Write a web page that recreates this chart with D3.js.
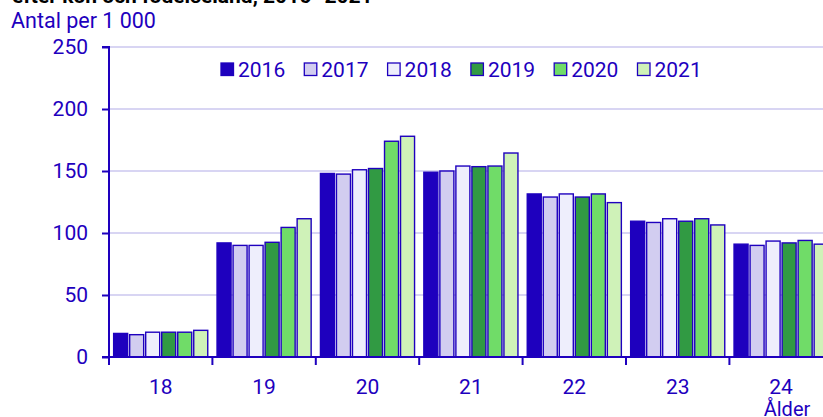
<!DOCTYPE html>
<html>
<head>
<meta charset="utf-8">
<script src="https://cdn.jsdelivr.net/npm/d3@7"></script>
<style>
  body { margin: 0; background: #fff; }
  text { font-family: Roboto, "Noto Sans", sans-serif; }
</style>
</head>
<body>
<div class="chart"></div>
<script>
var svgWidth = 823;
var svgHeight = 417;

// data
var ages = ["18", "19", "20", "21", "22", "23", "24"];
var years = ["2016", "2017", "2018", "2019", "2020", "2021"];
var v2016 = [19, 92, 148, 149, 131.5, 109.5, 91];
var v2017 = [18, 90, 147.5, 150, 129, 108.5, 90];
var v2018 = [20, 90, 151, 154, 131.5, 111.5, 93.5];
var v2019 = [20, 92.5, 152, 153.5, 129, 109.5, 92];
var v2020 = [20, 104.5, 174, 154, 131.5, 111.5, 94];
var v2021 = [21.5, 111.5, 178, 164.5, 124.5, 106.5, 91];
var yTicks = [0, 50, 100, 150, 200, 250];

var series = [v2016, v2017, v2018, v2019, v2020, v2021];
var colors = ["#1e00be", "#d2cdf0", "#eeeefc", "#319a43", "#70dc68", "#cff2b8"];
var blue = "#1e00be";

var data = [];
ages.forEach(function(a, i) {
  years.forEach(function(y, j) {
    data.push({ age: a, year: y, value: series[j][i] });
  });
});

var x0 = 109, y0 = 357;

var svg = d3.select(".chart")
  .append("svg")
  .attr("width", svgWidth)
  .attr("height", svgHeight);

var xScale = d3.scaleBand()
  .domain(ages)
  .range([x0, x0 + 7 * 103.4]);

var xInner = d3.scaleBand()
  .domain(years)
  .range([0, xScale.bandwidth()])
  .paddingInner(0.125)
  .paddingOuter(0.29);

var yScale = d3.scaleLinear()
  .domain([0, 250])
  .range([y0, 47]);

// title (clipped at top)
svg.append("text")
  .attr("x", 12)
  .attr("y", 2.5)
  .attr("font-size", "21px")
  .attr("font-weight", "bold")
  .attr("fill", "#000")
  .text("efter kön och födelseland, 2016–2021");

svg.append("text")
  .attr("x", 11)
  .attr("y", 28)
  .attr("font-size", "21.5px")
  .attr("fill", blue)
  .text("Antal per 1 000");

// gridlines
svg.append("g")
  .selectAll("line")
  .data(yTicks.filter(function(d) { return d > 0; }))
  .enter()
  .append("line")
  .attr("x1", x0)
  .attr("x2", svgWidth)
  .attr("y1", function(d) { return yScale(d); })
  .attr("y2", function(d) { return yScale(d); })
  .attr("stroke", "#d8d5f3")
  .attr("stroke-width", 2);

// bars
svg.append("g")
  .selectAll("rect")
  .data(data)
  .enter()
  .append("rect")
  .attr("x", function(d) { return xScale(d.age) + xInner(d.year); })
  .attr("y", function(d) { return yScale(d.value); })
  .attr("width", xInner.bandwidth())
  .attr("height", function(d) { return y0 - yScale(d.value); })
  .attr("fill", function(d) { return colors[years.indexOf(d.year)]; })
  .attr("stroke", blue)
  .attr("stroke-width", 1.4);

// y axis
var leftAxis = d3.axisLeft(yScale).tickValues(yTicks).tickSize(7).tickPadding(14);
var yAxis = svg.append("g")
  .attr("transform", `translate(${x0}, 0)`)
  .call(leftAxis);
yAxis.select(".domain").attr("stroke", blue).attr("stroke-width", 2).attr("d", `M-7,${yScale(250)}H0V${y0}`);
yAxis.selectAll(".tick line").attr("stroke", blue).attr("stroke-width", 2);
yAxis.selectAll(".tick text")
  .attr("fill", blue)
  .attr("font-size", "21px")
  .attr("font-family", "Roboto, sans-serif");

// x axis
var bottomAxis = d3.axisBottom(xScale).tickSize(0).tickPadding(22);
var xAxis = svg.append("g")
  .attr("transform", `translate(0, ${y0})`)
  .call(bottomAxis);
xAxis.select(".domain").attr("stroke", blue).attr("stroke-width", 2).attr("d", `M${x0 - 7},0H${svgWidth}`);
xAxis.selectAll(".tick text")
  .attr("fill", blue)
  .attr("font-size", "21px")
  .attr("font-family", "Roboto, sans-serif");

// x tick marks at band edges
xAxis.append("g")
  .selectAll("line")
  .data(ages)
  .enter()
  .append("line")
  .attr("x1", function(d) { return xScale(d); })
  .attr("x2", function(d) { return xScale(d); })
  .attr("y1", 0)
  .attr("y2", 8)
  .attr("stroke", blue)
  .attr("stroke-width", 2);

svg.append("text")
  .attr("x", 787)
  .attr("y", 416)
  .attr("text-anchor", "middle")
  .attr("font-size", "20px")
  .attr("fill", blue)
  .text("Ålder");

// legend
var legend = svg.append("g")
  .selectAll("g")
  .data(years)
  .enter()
  .append("g")
  .attr("transform", function(d, i) { return `translate(${221 + i * 83.3}, 63)`; });

legend.append("rect")
  .attr("width", 12.5)
  .attr("height", 12.5)
  .attr("fill", function(d, i) { return colors[i]; })
  .attr("stroke", blue)
  .attr("stroke-width", 1.3);

legend.append("text")
  .attr("x", 17)
  .attr("y", 14)
  .attr("font-size", "21px")
  .attr("fill", blue)
  .text(function(d) { return d; });
</script>
</body>
</html>
